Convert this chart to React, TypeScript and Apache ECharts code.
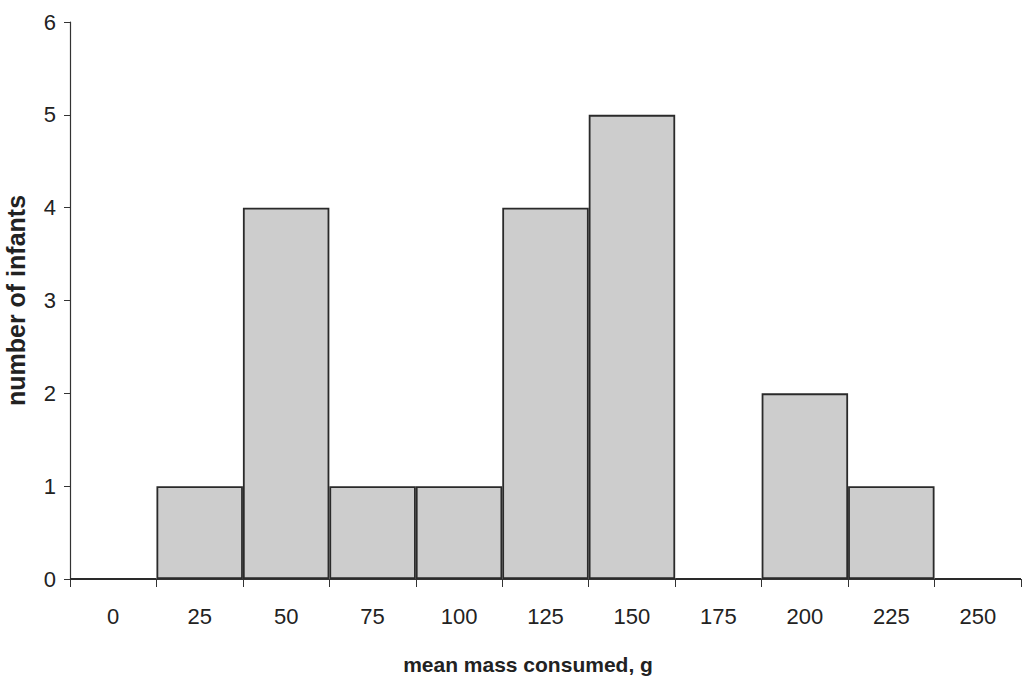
import React, { useEffect, useRef } from "react";
import * as echarts from "echarts";

const categories = ["0", "25", "50", "75", "100", "125", "150", "175", "200", "225", "250"];
const counts = [0, 1, 4, 1, 1, 4, 5, 0, 2, 1, 0];
const yTicks = { min: 0, max: 6, interval: 1 };
const xTitle = "mean mass consumed, g";
const yTitle = "number of infants";

export default function App() {
  const ref = useRef<HTMLDivElement>(null);
  useEffect(() => {
    if (!ref.current) return;
    const chart = echarts.init(ref.current, null, { renderer: "svg" });
    const font = "'Liberation Sans', Arial, sans-serif";
    chart.setOption({
      animation: false,
      backgroundColor: "#ffffff",
      grid: { left: 70, right: 1, top: 22, bottom: 102, containLabel: false, outerBoundsMode: "none" },
      xAxis: {
        type: "category",
        data: categories,
        boundaryGap: true,
        axisLine: { show: true, lineStyle: { color: "#333333", width: 1.2 } },
        axisTick: { show: true, alignWithLabel: false, length: 8, lineStyle: { color: "#333333" } },
        axisLabel: { color: "#222222", fontSize: 22, fontFamily: font, margin: 26 },
        splitLine: { show: false },
      },
      yAxis: {
        type: "value",
        min: yTicks.min,
        max: yTicks.max,
        interval: yTicks.interval,
        name: yTitle,
        nameLocation: "middle",
        nameGap: 42,
        nameTextStyle: { color: "#222222", fontSize: 25, fontWeight: "bold", fontFamily: font },
        axisLine: { show: true, lineStyle: { color: "#333333", width: 1.2 } },
        axisTick: { show: true, length: 6, lineStyle: { color: "#333333" } },
        axisLabel: { color: "#222222", fontSize: 22, fontFamily: font, margin: 14 },
        splitLine: { show: false },
      },
      graphic: [
        {
          type: "text",
          x: 528,
          y: 664,
          style: {
            text: xTitle,
            fill: "#222222",
            font: `bold 21px ${font}`,
            textAlign: "center",
            textVerticalAlign: "middle",
          },
        },
      ],
      series: [
        {
          type: "bar",
          data: counts,
          barCategoryGap: "0%",
          barGap: "0%",
          itemStyle: { color: "#cdcdcd", borderColor: "#2a2a2a", borderWidth: 1.8 },
        },
      ],
    });
    return () => chart.dispose();
  }, []);
  return (
    <div
      ref={ref}
      style={{ position: "fixed", left: 0, top: 0, width: 1022, height: 681 }}
    />
  );
}
